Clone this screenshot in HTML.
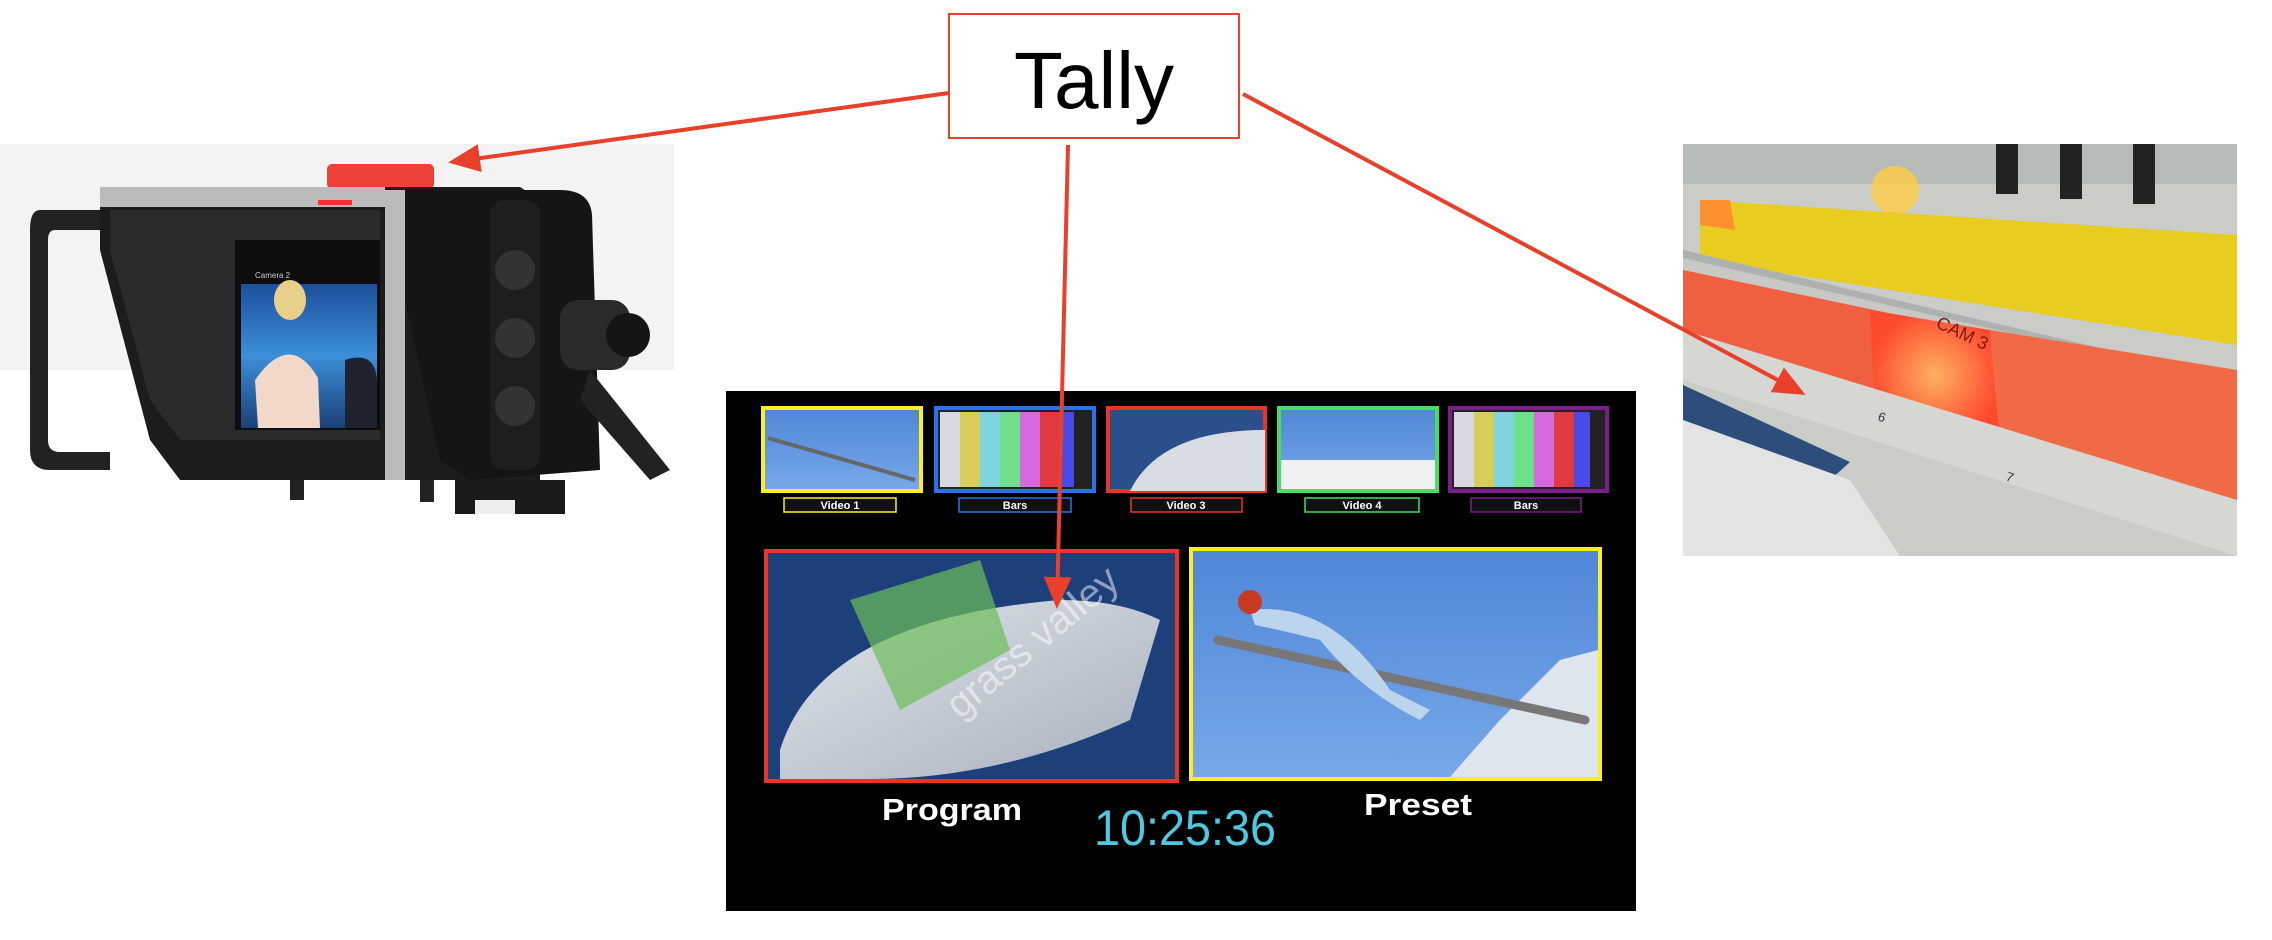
<!DOCTYPE html>
<html><head><meta charset="utf-8"><style>
html,body{margin:0;padding:0;background:#fff;width:2272px;height:940px;overflow:hidden}
svg{display:block}
text{font-family:"Liberation Sans",sans-serif}
</style></head><body>
<svg width="2272" height="940" viewBox="0 0 2272 940">
<defs>
<marker id="ah" markerWidth="8" markerHeight="8" refX="7" refY="4" orient="auto" markerUnits="strokeWidth"><path d="M0,0.5 L8,4 L0,7.5 z" fill="#e8402a"/></marker>
<linearGradient id="sky" x1="0" y1="0" x2="0" y2="1"><stop offset="0" stop-color="#4f86d6"/><stop offset="1" stop-color="#78a8e8"/></linearGradient>
<linearGradient id="snow" x1="0" y1="0" x2="1" y2="1"><stop offset="0" stop-color="#dfe4ea"/><stop offset="1" stop-color="#a8b0bd"/></linearGradient>
<radialGradient id="glow" cx="0.5" cy="0.5" r="0.5"><stop offset="0" stop-color="#ffb060"/><stop offset="1" stop-color="#ff4a30"/></radialGradient>
<linearGradient id="studio" x1="0" y1="0" x2="0" y2="1"><stop offset="0" stop-color="#1d4f9c"/><stop offset="0.5" stop-color="#3c8fd8"/><stop offset="1" stop-color="#1c3f77"/></linearGradient>
</defs>

<!-- Camera -->
<rect x="0" y="144" width="674" height="226" fill="#f3f3f3"/>
<path d="M40,210 L100,210 L100,230 L55,230 Q48,230 48,240 L48,440 Q48,452 60,452 L110,452 L110,470 L50,470 Q30,470 30,450 L30,230 Q30,210 40,210z" fill="#222"/>
<rect x="327" y="164" width="107" height="25" rx="5" fill="#f0403a"/>
<path d="M100,187 L520,187 L540,200 L540,480 L180,480 L150,440 L100,250z" fill="#1c1c1e"/>
<rect x="100" y="187" width="285" height="20" fill="#bbb"/>
<rect x="385" y="190" width="20" height="290" fill="#bbb"/>
<path d="M110,210 L380,210 L380,440 L180,440 L150,400 L110,250z" fill="#2a2a2c"/>
<rect x="235" y="240" width="145" height="190" fill="#0d0d0f"/>
<rect x="241" y="284" width="136" height="144" fill="url(#studio)"/>
<ellipse cx="290" cy="300" rx="16" ry="20" fill="#e8d08a"/>
<path d="M255,380 Q290,330 318,378 L320,428 L258,428z" fill="#f1d8c8"/>
<path d="M345,360 Q375,350 377,380 L377,428 L345,428z" fill="#1f2330"/>
<text x="255" y="278" font-size="8" fill="#ccc">Camera 2</text>
<rect x="318" y="200" width="34" height="5" fill="#e33"/>
<path d="M405,190 L560,190 Q590,190 592,215 L600,470 L470,480 L440,460 L405,300z" fill="#151517"/>
<rect x="490" y="200" width="50" height="270" rx="14" fill="#1e1e20"/>
<circle cx="515" cy="270" r="20" fill="#333"/><circle cx="515" cy="338" r="20" fill="#333"/><circle cx="515" cy="406" r="20" fill="#333"/>
<rect x="560" y="300" width="70" height="70" rx="18" fill="#2a2a2a"/>
<circle cx="628" cy="335" r="22" fill="#151515"/>
<path d="M590,370 L670,470 L650,480 L580,400z" fill="#222"/>
<rect x="290" y="480" width="14" height="20" fill="#222"/><rect x="420" y="480" width="14" height="22" fill="#222"/>
<rect x="455" y="480" width="110" height="34" fill="#1a1a1a"/>
<rect x="475" y="500" width="40" height="14" fill="#eee"/>

<!-- Switcher buttons photo -->
<rect x="1683" y="144" width="554" height="412" fill="#c9ccc7"/>
<rect x="1683" y="144" width="554" height="40" fill="#b8bcb8"/>
<rect x="1996" y="144" width="22" height="50" fill="#222"/><rect x="2060" y="144" width="22" height="55" fill="#222"/><rect x="2133" y="144" width="22" height="60" fill="#222"/>
<circle cx="1895" cy="190" r="24" fill="#ffcc44" opacity="0.8"/>
<path d="M1700,200 L2237,235 L2237,345 L1700,260z" fill="#e8cc20"/>
<path d="M1700,200 L1730,200 L1735,230 L1700,225z" fill="#ff9030"/>
<path d="M1683,250 L2237,380 L2237,390 L1683,280z" fill="#aeb2ae"/>
<path d="M1683,258 L2237,385 L2237,480 L1683,330z" fill="#c8c8c4"/>
<path d="M1683,270 L1970,330 L1970,440 L1683,340z" fill="#f06040"/>
<path d="M1870,310 L1990,330 L2000,440 L1875,420z" fill="url(#glow)"/>
<path d="M1990,330 L2237,370 L2237,540 L2000,440z" fill="#f06a45"/>
<path d="M1683,330 L2237,500 L2237,556 L1683,380z" fill="#d6d6d2"/>
<path d="M1683,385 L1850,462 L1830,480 L1683,420z" fill="#2d4d7a"/>
<path d="M1683,420 L1850,480 L1900,556 L1683,556z" fill="#e2e4e4"/>
<text x="1935" y="327" font-size="18" fill="#7a1a10" transform="rotate(25 1935 327)">CAM 3</text>
<text x="1877" y="420" font-size="13" fill="#333" transform="rotate(20 1877 420)">6</text>
<text x="2005" y="480" font-size="13" fill="#333" transform="rotate(20 2005 480)">7</text>

<!-- Multiviewer -->
<rect x="726" y="391" width="910" height="520" fill="#000"/>
<rect x="763" y="408" width="158" height="83" fill="url(#sky)" stroke="#ffee22" stroke-width="4"/>
<path d="M768,438 L915,480" stroke="#666" stroke-width="4"/>
<rect x="936" y="408" width="158" height="83" fill="#222" stroke="#2a72e8" stroke-width="4"/>
<g><rect x="940" y="412" width="20" height="75" fill="#d8d8e0"/><rect x="960" y="412" width="20" height="75" fill="#d8cc5a"/><rect x="980" y="412" width="20" height="75" fill="#80d4e0"/><rect x="1000" y="412" width="20" height="75" fill="#6ee08a"/><rect x="1020" y="412" width="20" height="75" fill="#d868e0"/><rect x="1040" y="412" width="20" height="75" fill="#e03a40"/><rect x="1060" y="412" width="14" height="75" fill="#4a4ae8"/></g>
<rect x="1108" y="408" width="157" height="83" fill="#2b4f8a" stroke="#e8352a" stroke-width="4"/>
<path d="M1130,491 Q1160,430 1265,430 L1265,491z" fill="#d8dde3"/>
<rect x="1279" y="408" width="158" height="83" fill="url(#sky)" stroke="#44dd66" stroke-width="4"/>
<rect x="1281" y="460" width="154" height="29" fill="#eef0f2"/>
<rect x="1450" y="408" width="157" height="83" fill="#222" stroke="#7a1e8a" stroke-width="4"/>
<g><rect x="1454" y="412" width="20" height="75" fill="#d8d8e0"/><rect x="1474" y="412" width="20" height="75" fill="#d8cc5a"/><rect x="1494" y="412" width="20" height="75" fill="#80d4e0"/><rect x="1514" y="412" width="20" height="75" fill="#6ee08a"/><rect x="1534" y="412" width="20" height="75" fill="#d868e0"/><rect x="1554" y="412" width="20" height="75" fill="#e03a40"/><rect x="1574" y="412" width="16" height="75" fill="#4a4ae8"/></g>
<g font-size="11" font-weight="bold" fill="#fff" text-anchor="middle">
<rect x="784" y="498" width="112" height="14" fill="#111" stroke="#ffee22" stroke-width="1.5"/><text x="840" y="509">Video 1</text>
<rect x="959" y="498" width="112" height="14" fill="#111" stroke="#2a72e8" stroke-width="1.5"/><text x="1015" y="509">Bars</text>
<rect x="1131" y="498" width="111" height="14" fill="#111" stroke="#e8352a" stroke-width="1.5"/><text x="1186" y="509">Video 3</text>
<rect x="1305" y="498" width="114" height="14" fill="#111" stroke="#44dd66" stroke-width="1.5"/><text x="1362" y="509">Video 4</text>
<rect x="1471" y="498" width="110" height="14" fill="#111" stroke="#7a1e8a" stroke-width="1.5"/><text x="1526" y="509">Bars</text>
</g>
<rect x="766" y="551" width="411" height="230" fill="#1d3f7a" stroke="#e8352a" stroke-width="4"/>
<path d="M780,750 Q820,620 1060,600 Q1120,600 1160,620 L1130,720 Q1000,779 870,779 L780,779z" fill="url(#snow)"/>
<path d="M850,600 L980,560 L1010,650 L900,710z" fill="#6cbf5a" opacity="0.7"/>
<text x="960" y="720" font-size="40" fill="#fff" opacity="0.5" transform="rotate(-40 960 720)">grass valley</text>
<rect x="1191" y="549" width="409" height="230" fill="url(#sky)" stroke="#ffee22" stroke-width="4"/>
<path d="M1500,720 L1560,660 L1598,650 L1598,777 L1450,777z" fill="#dfe5ec"/>
<path d="M1218,640 L1585,720" stroke="#777" stroke-width="9" stroke-linecap="round"/>
<path d="M1250,610 Q1330,600 1390,690 L1430,710 L1420,720 Q1360,690 1320,640 Q1280,630 1255,625z" fill="#bcd4ec"/>
<circle cx="1250" cy="602" r="12" fill="#c83a22"/>
<text x="952" y="820" font-size="31" font-weight="bold" fill="#fff" text-anchor="middle" textLength="140" lengthAdjust="spacingAndGlyphs">Program</text>
<text x="1418" y="815" font-size="31" font-weight="bold" fill="#fff" text-anchor="middle" textLength="108" lengthAdjust="spacingAndGlyphs">Preset</text>
<text x="1185" y="845" font-size="50" fill="#4ec8e0" text-anchor="middle" font-family="Liberation Mono, monospace" textLength="182" lengthAdjust="spacingAndGlyphs">10:25:36</text>

<rect x="949" y="14" width="290" height="124" fill="#fff" stroke="#e8402a" stroke-width="2"/>
<text x="1094" y="108" font-size="80" fill="#000" text-anchor="middle">Tally</text>

<g stroke="#e8402a" stroke-width="4" fill="none">
<line x1="949" y1="93" x2="452" y2="162" marker-end="url(#ah)"/>
<line x1="1068" y1="145" x2="1057" y2="605" marker-end="url(#ah)"/>
<line x1="1243" y1="94" x2="1802" y2="393" marker-end="url(#ah)"/>
</g>
</svg>
</body></html>
